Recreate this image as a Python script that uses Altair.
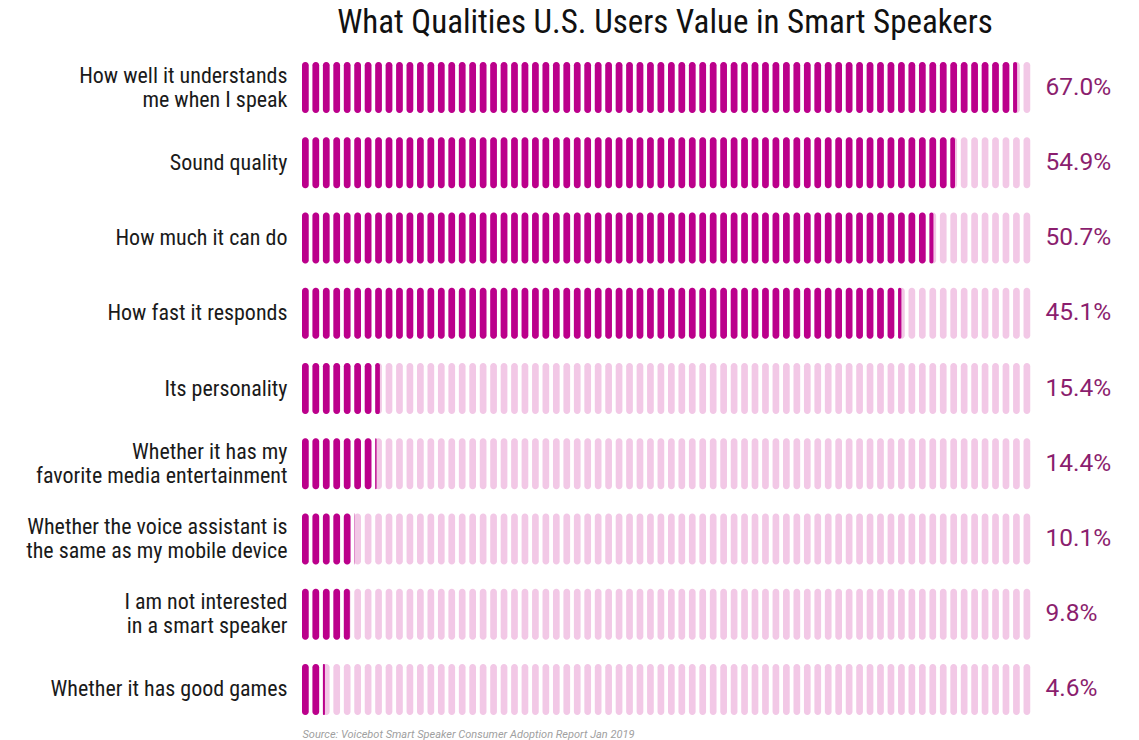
import math
import altair as alt
import pandas as pd

# ---- data ----
categories = [
    "How well it understands\nme when I speak",
    "Sound quality",
    "How much it can do",
    "How fast it responds",
    "Its personality",
    "Whether it has my\nfavorite media entertainment",
    "Whether the voice assistant is\nthe same as my mobile device",
    "I am not interested\nin a smart speaker",
    "Whether it has good games",
]
values = [67.0, 54.9, 50.7, 45.1, 15.4, 14.4, 10.1, 9.8, 4.6]
value_labels = [f"{v:.1f}%" for v in values]
# number of pills shown filled in each row (as drawn in the picture)
filled_pills = [68.6, 62.7, 60.6, 57.5, 7.7, 7.2, 5.05, 4.9, 2.3]
TOTAL_PILLS = 70

title_text = "What Qualities U.S. Users Value in Smart Speakers"
source_text = "Source: Voicebot Smart Speaker Consumer Adoption Report Jan 2019"

# ---- styling ----
PILL_W = 0.64
DARK = "#bb008b"
LIGHT = "#f2c8e6"
VALUE_COLOR = "#8b1e6e"
FONT = "Roboto Condensed, Roboto, sans-serif"
NONE_COLOR = "transparent"

light_rows, dark_rows = [], []
for c, vl, f in zip(categories, value_labels, filled_pills):
    for i in range(TOTAL_PILLS):
        light_rows.append({"cat": c, "vlab": vl, "x": i, "x2": i + PILL_W})
    for i in range(math.ceil(f)):
        frac = min(1.0, f - i)
        dark_rows.append({"cat": c, "vlab": vl, "x": i, "x2": i + PILL_W * frac})

light_df = pd.DataFrame(light_rows)
dark_df = pd.DataFrame(dark_rows)
title_df = pd.DataFrame({"t": [title_text]})

hidden = dict(domain=False, ticks=False, grid=False, domainColor=NONE_COLOR,
              gridColor=NONE_COLOR, tickColor=NONE_COLOR, domainWidth=0)

x_axis = alt.Axis(
    title=source_text, labels=False, titleAnchor="start", titleAlign="left",
    titleFontStyle="italic", titleFontSize=11, titleFontWeight="normal",
    titleColor="#a0a0a0", titleFont="Roboto, sans-serif", titlePadding=13, **hidden,
)
x_scale = alt.Scale(domain=[0, TOTAL_PILLS], nice=False, zero=False)
band = dict(paddingInner=0.322, paddingOuter=0)

light = alt.Chart(light_df).mark_bar(color=LIGHT, cornerRadius=3.3, strokeWidth=0).encode(
    x=alt.X("x:Q", scale=x_scale, axis=x_axis),
    x2="x2:Q",
    y=alt.Y("cat:N", sort=categories, scale=alt.Scale(**band), title=None,
            axis=alt.Axis(orient="left", labelExpr="split(datum.label, '\\n')",
                          labelPadding=15, labelFontSize=22, labelLineHeight=24,
                          labelFont=FONT, labelColor="#1a1a1a", labelLimit=0,
                          labelOffset={"condition": {
                              "test": "indexof(datum.label, '\\n') >= 0", "value": -12},
                              "value": 0}, **hidden)),
)

dark = alt.Chart(dark_df).mark_bar(color=DARK, cornerRadius=3.3, strokeWidth=0).encode(
    x=alt.X("x:Q", scale=x_scale, axis=x_axis),
    x2="x2:Q",
    y=alt.Y("vlab:N", sort=value_labels, scale=alt.Scale(**band), title=None,
            axis=alt.Axis(orient="right", labelPadding=11, labelFontSize=24.5,
                          labelFont="Roboto, sans-serif", labelColor=VALUE_COLOR,
                          labelLimit=0, **hidden)),
)

title = alt.Chart(title_df).mark_text(
    font=FONT, fontSize=33, color="#111111", align="center", baseline="alphabetic"
).encode(text="t:N", x=alt.value(363), y=alt.value(-29))

chart = (
    alt.layer(light, dark, title)
    .resolve_scale(y="independent")
    .properties(
        width=732, height=653,
        view=alt.ViewBackground(stroke=NONE_COLOR, strokeWidth=0, strokeOpacity=0),
        autosize=alt.AutoSizeParams(type="none"),
        padding={"left": 294, "top": 54, "right": 85, "bottom": 30},
    )
    .configure_view(stroke=NONE_COLOR, strokeWidth=0, strokeOpacity=0)
    .configure_axis(domain=False, grid=False, ticks=False)
    .configure(background="white",
               style={"cell": {"stroke": NONE_COLOR, "strokeWidth": 0}})
)

chart.save("out.html", embed_options={"renderer": "svg", "actions": False})
